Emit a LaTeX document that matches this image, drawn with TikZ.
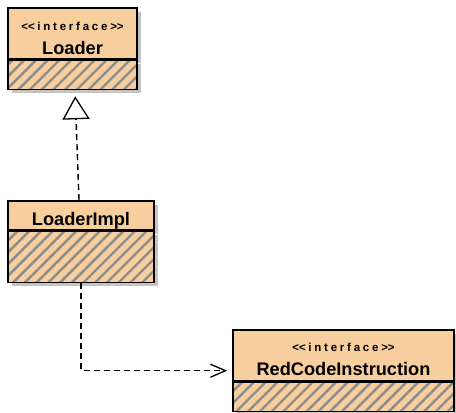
\documentclass[tikz,border=0pt]{standalone}
\usepackage{fontspec}
\setmainfont{Liberation Sans}
\newfontfamily\stereofont[LetterSpace=24]{Liberation Sans}
\usetikzlibrary{positioning,fit,shadows,patterns.meta,arrows.meta}
\definecolor{classfill}{RGB}{247,206,158}
\definecolor{hatchgray}{RGB}{140,140,140}
\definecolor{shadowgray}{RGB}{196,196,196}
\newcommand{\stereotype}[1]{{\stereofont\fontsize{11.5}{14}\selectfont <\kern0pt<#1>\kern0pt>}}

\begin{document}
\begin{tikzpicture}[
    x=1pt, y=-1pt,
    compartment/.style={
        rectangle,
        draw=black,
        line width=1.4pt,
        inner sep=0pt,
        drop shadow={shadow xshift=4pt, shadow yshift=-4pt, fill=shadowgray, opacity=1},
        preaction={fill=classfill},
        align=center
    },
    classhead/.style={
        compartment,
        text depth=0pt,
        font=\fontsize{18.2}{24}\selectfont\bfseries
    },
    classbody/.style={
        compartment,
        preaction={pattern={Lines[angle=45, distance=8.3pt, line width=2.4pt]}, pattern color=hatchgray}
    },
    dashline/.style={
        line width=1.4pt,
        dash pattern=on 6pt off 4pt
    }
]

\useasboundingbox (0,0) rectangle (456,413);

\node[classhead, minimum width=129pt, minimum height=51pt, text height=41pt] (loaderHead) at (72.5,33.5) {\stereotype{interface}\\Loader};
\node[classbody, minimum width=129pt, minimum height=29pt, below=0pt of loaderHead] (loaderBody) {};
\node[fit=(loaderHead)(loaderBody), inner sep=0pt] (loader) {};

\node[classhead, minimum width=146pt, minimum height=29pt, text height=19pt] (implHead) at (81,215.5) {LoaderImpl};
\node[classbody, minimum width=146pt, minimum height=51pt, below=0pt of implHead] (implBody) {};
\node[fit=(implHead)(implBody), inner sep=0pt] (impl) {};

\node[classhead, minimum width=221pt, minimum height=51pt, text height=39pt] (redHead) at (343.5,355.5) {\stereotype{interface}\\RedCodeInstruction};
\node[classbody, minimum width=221pt, minimum height=29pt, below=0pt of redHead] (redBody) {};
\node[fit=(redHead)(redBody), inner sep=0pt] (red) {};

\draw[dashline, -{Triangle[open, length=23pt, width=27pt, line width=1.3pt, fill=white]}, shorten >=6pt] ([xshift=-2pt]impl.north) -- ([xshift=2.5pt]loader.south);
\draw[dashline, -{Straight Barb[length=15pt, width=13pt, line width=1.3pt]}, shorten >=5pt] (impl.south) |- (red.west);

\end{tikzpicture}
\end{document}
